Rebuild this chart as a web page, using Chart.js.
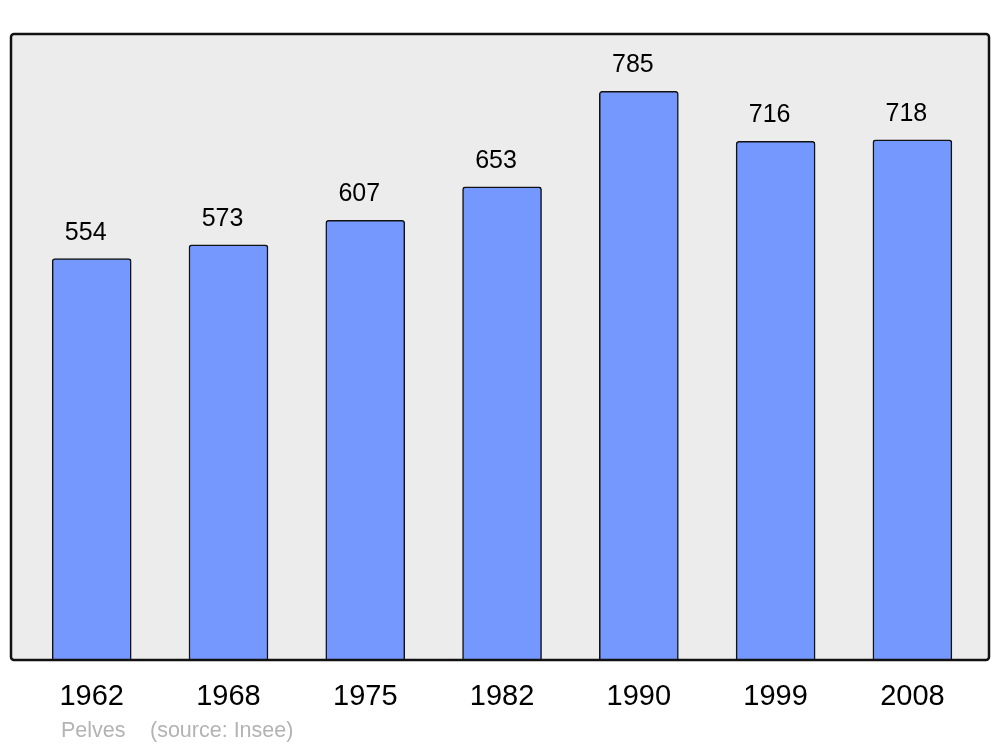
<!DOCTYPE html>
<html>
<head>
<meta charset="utf-8">
<script src="https://cdn.jsdelivr.net/npm/chart.js@4"></script>
<style>
  html, body { margin: 0; padding: 0; background: #fff; }
  #wrap { width: 1000px; height: 747px; }
</style>
</head>
<body>
<div id="wrap"><canvas id="popChart" width="1000" height="747"></canvas></div>
<script>
// === Data ===
const years = ['1962', '1968', '1975', '1982', '1990', '1999', '2008'];
const population = [554, 573, 607, 653, 785, 716, 718];
const commune = 'Pelves';
const sourceNote = '(source: Insee)';

const FONT = '"Liberation Sans", Arial, sans-serif';

// background box behind the bars, frame on top
const framePlugin = {
  id: 'frame',
  beforeDatasetsDraw(chart) {
    const { ctx, chartArea: a } = chart;
    ctx.save();
    ctx.fillStyle = '#ececec';
    ctx.beginPath();
    ctx.roundRect(a.left, a.top, a.right - a.left, a.bottom - a.top, 3);
    ctx.fill();
    ctx.restore();
  },
  afterDatasetsDraw(chart) {
    const { ctx, chartArea: a } = chart;
    ctx.save();
    ctx.strokeStyle = '#111';
    ctx.lineWidth = 2.5;
    ctx.beginPath();
    ctx.roundRect(a.left, a.top, a.right - a.left, a.bottom - a.top, 3);
    ctx.stroke();

    // value labels above bars
    const meta = chart.getDatasetMeta(0);
    ctx.fillStyle = '#000';
    ctx.font = '25px ' + FONT;
    ctx.textAlign = 'center';
    ctx.textBaseline = 'alphabetic';
    meta.data.forEach((bar, i) => {
      ctx.fillText(String(population[i]), bar.x - 6, bar.y - 19);
    });

    // source line
    ctx.fillStyle = '#b3b3b3';
    ctx.font = '21.5px ' + FONT;
    ctx.textAlign = 'left';
    ctx.fillText(commune, 61, 737);
    ctx.fillText(sourceNote, 150, 737);
    ctx.restore();
  }
};

const ctx = document.getElementById('popChart').getContext('2d');
new Chart(ctx, {
  type: 'bar',
  data: {
    datasets: [{
      data: population.map((v, i) => ({ x: i, y: v })),
      backgroundColor: '#7598ff',
      borderColor: '#111',
      borderWidth: 1.5,
      borderRadius: 3,
      borderSkipped: 'bottom',
      barThickness: 79
    }]
  },
  options: {
    responsive: false,
    animation: false,
    layout: { padding: { left: 11, right: 11, top: 34, bottom: 0 } },
    plugins: { legend: { display: false }, tooltip: { enabled: false } },
    scales: {
      x: {
        type: 'linear',
        offset: false,
        min: -0.59,
        max: 6.56,
        grid: { display: false, drawTicks: false, offset: false },
        border: { display: false },
        afterBuildTicks: s => { s.ticks = years.map((_, i) => ({ value: i })); },
        afterFit: s => { s.height = 87; },
        ticks: {
          padding: 20,
          color: '#000',
          font: { family: FONT, size: 29 },
          maxRotation: 0,
          autoSkip: false,
          callback: v => years[v] ?? ''
        }
      },
      y: {
        display: false,
        min: 0,
        max: 864
      }
    }
  },
  plugins: [framePlugin]
});
</script>
</body>
</html>
